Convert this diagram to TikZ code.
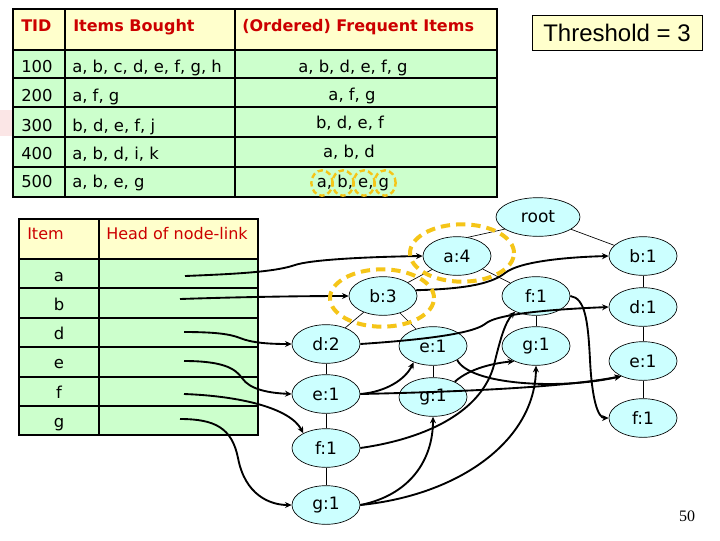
\documentclass[tikz,border=0pt]{standalone}
\usepackage{fontspec}
\setmainfont{DejaVu Sans}
\newfontfamily\arialf{Liberation Sans}
\newfontfamily\timesf{Liberation Serif}
\usetikzlibrary{shapes.geometric,arrows.meta}
\definecolor{hdrY}{HTML}{FFFFCC}
\definecolor{rowG}{HTML}{CCFFCC}
\definecolor{nodeC}{HTML}{CCFFFF}
\definecolor{redT}{HTML}{CC0000}
\definecolor{goldR}{HTML}{F5C518}
\definecolor{pinkBg}{HTML}{FBE6E6}
\begin{document}
\begin{tikzpicture}[x=0.75pt,y=-0.75pt,
  tn/.style={ellipse,draw=black,line width=0.5pt,fill=nodeC,minimum width=51pt,minimum height=29pt,inner sep=0pt,font=\fontsize{12.8}{14}\selectfont},
  txt/.style={inner sep=0pt,font=\fontsize{12.3}{14}\selectfont},
  hdr/.style={inner sep=0pt,font=\fontsize{12}{14}\selectfont\bfseries,text=redT},
  hdr2/.style={inner sep=0pt,font=\fontsize{12}{14}\selectfont,text=redT},
  grid/.style={line width=1.6pt,black},
  edge/.style={line width=0.5pt,black},
  link/.style={line width=1.4pt,black,-{Stealth[length=5pt,width=4.5pt]}},
  ring/.style={draw=goldR,line width=3pt,dash pattern=on 7pt off 4.5pt},
  sring/.style={draw=goldR,line width=1.8pt,dash pattern=on 4pt off 2.5pt}]
\useasboundingbox (0,0) rectangle (720,540);
\fill[white] (0,0) rectangle (720,540);
\fill[pinkBg] (0,110) rectangle (13,136);
% ---------- transaction table ----------
\fill[hdrY] (13,9) rectangle (497,50);
\fill[rowG] (13,50) rectangle (497,197);
\foreach \yy in {50,78,107,137,167} \draw[grid] (13,\yy) -- (497,\yy);
\draw[grid] (65,9) -- (65,197);
\draw[grid] (235,9) -- (235,197);
\draw[line width=2pt] (13,9) rectangle (497,197);
\node[hdr,anchor=base west] (tid) at (21,31) {TID};
\node[hdr,anchor=base west] (ib) at (73,31) {Items Bought};
\node[hdr,anchor=base west] (ofi) at (242,31) {(Ordered) Frequent Items};
\node[txt,anchor=base west] (t1) at (21,72) {100};
\node[txt,anchor=base west] (t2) at (21,101) {200};
\node[txt,anchor=base west] (t3) at (21,131) {300};
\node[txt,anchor=base west] (t4) at (21,159) {400};
\node[txt,anchor=base west] (t5) at (21,187) {500};
\node[txt,anchor=base west] (i1) at (72,72) {a, b, c, d, e, f, g, h};
\node[txt,anchor=base west] (i2) at (72,101) {a, f, g};
\node[txt,anchor=base west] (i3) at (72,131) {b, d, e, f, j};
\node[txt,anchor=base west] (i4) at (72,159) {a, b, d, i, k};
\node[txt,anchor=base west] (i5) at (72,187) {a, b, e, g};
\node[txt,anchor=base] (o1) at (353,72) {a, b, d, e, f, g};
\node[txt,anchor=base] (o2) at (352,100) {a, f, g};
\node[txt,anchor=base] (o3) at (350,128) {b, d, e, f};
\node[txt,anchor=base] (o4) at (349,157) {a, b, d};
\node[txt,anchor=base] (o5) at (353,187) {a, b, e, g};
\foreach \xx in {322,343,364,385} \draw[sring] (\xx,183) ellipse [x radius=8pt,y radius=9.5pt];
% ---------- threshold ----------
\node[draw=black,line width=0.5pt,fill=hdrY,minimum width=127.5pt,minimum height=26pt,inner sep=0pt,font=\arialf\fontsize{18}{20}\selectfont] (thr) at (617,32.5) {Threshold = 3};
% ---------- header table ----------
\fill[hdrY] (19,219) rectangle (258,259);
\fill[rowG] (19,259) rectangle (258,435);
\foreach \yy in {259,288,318,347,377,406} \draw[grid] (19,\yy) -- (258,\yy);
\draw[grid] (99,219) -- (99,435);
\draw[line width=2pt] (19,219) rectangle (258,435);
\node[hdr2,anchor=base west] (hitem) at (27,239) {Item};
\node[hdr2,anchor=base west] (hhead) at (106,239) {Head of node-link};
\node[txt,anchor=base] (la) at (59,281) {a};
\node[txt,anchor=base] (lb) at (59,310) {b};
\node[txt,anchor=base] (ld) at (59,339) {d};
\node[txt,anchor=base] (le) at (59,368) {e};
\node[txt,anchor=base] (lf) at (59,398) {f};
\node[txt,anchor=base] (lg) at (59,427) {g};
\coordinate (ha) at (185,276);
\coordinate (hb) at (180,299);
\coordinate (hd) at (184,332);
\coordinate (he) at (184,361);
\coordinate (hf) at (184,394);
\coordinate (hg) at (180,419);
% ---------- FP tree ----------
\node[tn,minimum width=63pt] (root) at (538,217) {root};
\node[tn] (a4) at (457,256) {a:4};
\node[tn] (b1) at (643,256) {b:1};
\node[tn] (b3) at (383,296) {b:3};
\node[tn] (f1m) at (536,296) {f:1};
\node[tn] (d1) at (643,307) {d:1};
\node[tn] (d2) at (326,344) {d:2};
\node[tn] (e1m) at (433,346) {e:1};
\node[tn] (g1r) at (536,346) {g:1};
\node[tn] (e1r) at (643,361) {e:1};
\node[tn] (e1l) at (326,394) {e:1};
\node[tn] (g1m) at (433,397) {g:1};
\node[tn] (f1r) at (643,418) {f:1};
\node[tn] (f1l) at (326,448) {f:1};
\node[tn] (g1l) at (326,505) {g:1};
\draw[edge] (a4.60) -- (root.200);
\draw[edge] (root) -- (b1);
\draw[edge] (a4) -- (b3);
\draw[edge] (a4) -- (f1m);
\draw[edge] (b3) -- (d2);
\draw[edge] (b3) -- (e1m);
\draw[edge] (d2) -- (e1l) -- (f1l) -- (g1l);
\draw[edge] (e1m) -- (g1m);
\draw[edge] (f1m) -- (g1r);
\draw[edge] (b1) -- (d1) -- (e1r) -- (f1r);
% ---------- node links ----------
\draw[link] (ha) .. controls (235,274) and (275,272) .. (295,265) .. controls (310,260) and (360,257) .. (a4.west);
\draw[link] (hb) .. controls (240,297) and (300,296) .. (b3.west);
\draw[link] (b3.10) .. controls (460,289) and (490,285) .. (505,273) .. controls (520,261) and (570,257) .. (b1.west);
\draw[link] (hd) .. controls (215,332) and (230,334) .. (240,338) .. controls (252,343) and (270,344) .. (d2.west);
\draw[link] (d2.east) .. controls (420,340) and (472,334) .. (485,324) .. controls (497,313) and (560,309) .. (d1.west);
\draw[link] (he) .. controls (222,361) and (235,368) .. (242,378) .. controls (250,390) and (270,393) .. (e1l.west);
\draw[link] (e1l.east) .. controls (385,392) and (405,380) .. (e1m.220);
\draw[link] (e1l.east) .. controls (450,392) and (560,388) .. (e1r.215);
\draw[link] (e1m.330) .. controls (470,385) and (560,390) .. (e1r.215);
\draw[link] (hf) .. controls (240,396) and (290,408) .. (f1l.147);
\draw[link] (f1l.east) .. controls (430,438) and (482,410) .. (494,365) .. controls (500,340) and (505,322) .. (f1m.217);
\draw[link] (f1m.east) .. controls (585,298) and (588,320) .. (590,360) .. controls (592,400) and (598,418) .. (f1r.west);
\draw[link] (hg) .. controls (215,419) and (232,428) .. (238,458) .. controls (245,495) and (270,505) .. (g1l.west);
\draw[link] (g1l.east) .. controls (410,495) and (433,460) .. (g1m.south);
\draw[link] (g1l.east) .. controls (460,495) and (535,440) .. (g1r.south);
\draw[link] (g1m.35) .. controls (470,368) and (495,363) .. (g1r.215);
% ---------- highlight rings ----------
\draw[ring] (462,253) ellipse [x radius=39pt,y radius=21.5pt];
\draw[ring] (382,298) ellipse [x radius=39pt,y radius=21.5pt];
% ---------- page number ----------
\node[inner sep=0pt,font=\timesf\fontsize{12}{14}\selectfont] (pg) at (687,516) {50};
\end{tikzpicture}
\end{document}
